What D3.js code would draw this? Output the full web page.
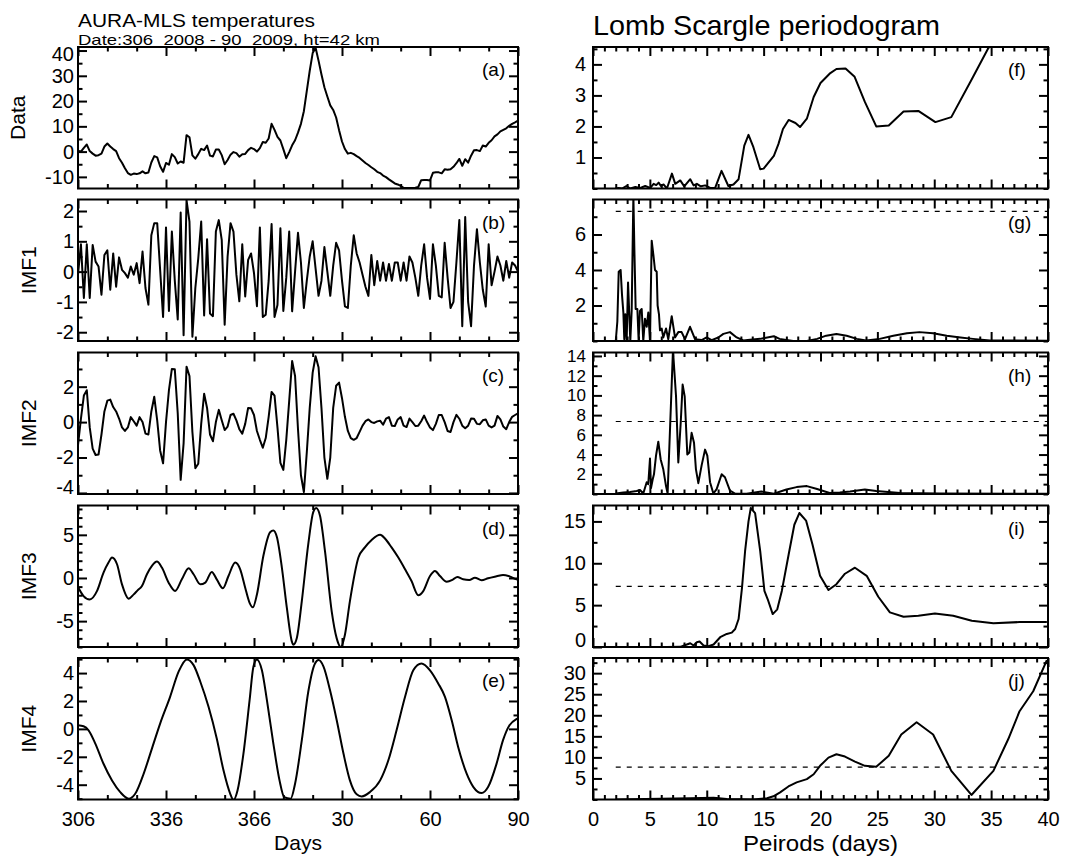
<!DOCTYPE html>
<html>
<head>
<meta charset="utf-8">
<script src="https://cdn.jsdelivr.net/npm/d3@7"></script>
<style>
    body { margin: 0; background: #fff; }
    svg text { font-family: "Liberation Sans", Arial, Helvetica, sans-serif; fill: #000; }
    .tick text { font-size: 20px; }
    .tick line { stroke: #000; stroke-width: 2px; }
</style>
</head>
<body>
<svg id="chart" width="1065" height="860"></svg>
<script>
// ---- left column: daily series, day 306 of 2008 .. day 90 of 2009 ----
const dayStart = 306;
const dayTicks = [306, 336, 366, 396, 426, 456];
const dayTickLabels = ["306", "336", "366", "30", "60", "90"];

const dataVals = [
    0.4, 0.0, 1.5, 2.8, 0.2, -0.8, -1.6, -1.4, -0.8, 2.0,
    3.2, 2.0, 1.0, 0.2, -2.6, -4.4, -6.6, -8.5, -9.2, -8.7,
    -8.9, -8.6, -7.8, -8.6, -8.3, -4.3, -1.8, -2.3, -5.8, -8.0,
    -4.5, -5.2, -1.0, -2.2, -4.7, -3.9, -4.4, 6.5, 5.7, -1.5,
    -2.8, -1.0, 1.1, 0.6, 2.4, -1.6, -1.9, 0.8, 0.8, -1.4,
    -5.0, -3.3, -1.2, -0.2, -0.6, -2.0, -1.0, -0.9, 0.6, 1.5,
    1.0, 0.0, 1.4, 3.8, 3.5, 5.2, 11.0, 8.6, 5.8, 4.4,
    1.0, -2.6, -0.2, 2.5, 4.5, 7.5, 11.0, 16.0, 24.0, 32.0,
    39.0, 41.1, 36.0, 30.5, 25.5, 21.8, 18.3, 16.5, 13.5, 8.5,
    4.0, 1.0, -0.8, -0.5, -1.0, -1.8, -2.5, -3.5, -4.5, -5.3,
    -6.2, -7.0, -8.0, -8.5, -9.5, -10.1, -11.0, -11.8, -12.6, -13.0,
    -13.6, -14.3, -14.4, -14.4, -14.4, -14.3, -14.0, -11.3, -11.2, -11.2,
    -11.4, -8.4, -8.2, -8.2, -8.6, -7.0, -7.2, -7.0, -6.0, -4.6,
    -2.9, -5.6, -3.0, -4.4, -1.6, 0.5, 0.6, 0.2, 2.4, 2.0,
    3.5, 4.5, 6.0, 6.8, 8.0, 8.6, 9.2, 10.2, 11.0, 11.6,
    12.3
];

const imf1Vals = [
    -0.1, 0.9, -0.87, 0.9, -0.87, 0.88, 0.33, 0.17, -0.76, 0.55,
    0.7, -0.6, 0.6, -0.5, 0.47, 0.06, -0.05, -0.2, 0.17, -0.1,
    0.28, -0.38, 0.66, -0.54, -1.09, 1.2, 1.6, 1.6, 0.06, -1.5,
    1.46, -1.3, 1.32, -0.3, -1.58, 1.95, -2.1, 2.36, 1.65, -2.15,
    -0.54, 0.44, 1.65, -1.45, 1.07, -1.38, -1.47, 1.32, 1.7, 1.05,
    -1.75, 0.5, 1.6, 1.32, -0.1, -0.98, 0.9, -0.82, 0.39, 0.6,
    -0.05, -1.14, 1.46, -1.5, -1.42, -0.3, 1.57, -1.5, -1.1, 1.43,
    -1.3, -0.2, 1.32, -1.31, 0.0, 1.28, 0.3, -1.2, -0.3, 0.5,
    1.0, 0.1, -0.8, -0.3, 0.81, 0.0, -0.8, 0.2, 0.95, 0.7,
    -0.3, -1.15, -1.2, 0.2, 1.2, 0.6, 0.3, -0.1, -0.5, -0.8,
    0.55, -0.45, 0.35, -0.3, 0.3, -0.3, 0.25, -0.3, 0.3, 0.3,
    -0.3, 0.3, -0.3, 0.5, 0.3, -0.2, -0.8, 0.2, 0.9, -0.2,
    -0.9, 0.9, 0.2, -0.8, -0.85, 0.95, -0.2, -1.2, -1.0, 0.3,
    1.7, -1.8, 1.8, -1.0, -1.8, 0.2, 1.4, 0.3, -0.6, -1.15,
    0.9, -0.45, 0.0, 0.5, 0.2, -0.3, 0.35, -0.2, 0.3, 0.2,
    0.0
];

const imf2Vals = [
    -1.3, 0.2, 1.5, 1.8, -0.3, -1.5, -1.86, -1.83, -0.7, 0.6,
    1.21, 1.27, 0.85, 0.6, 0.2, -0.3, -0.5, -0.3, 0.28, 0.05,
    -0.2, 0.28, 0.0, -0.65, -0.7, 0.6, 1.43, 0.1, -1.6, -2.33,
    0.0, 1.8, 3.0, 2.98, 0.5, -3.26, -1.2, 3.13, 2.6, -0.56,
    -2.6, -2.35, -0.1, 1.6, 0.8, -0.7, -1.08, 0.0, 0.69, 0.1,
    -0.45, -0.25, 0.4, 0.47, 0.1, -0.4, -0.65, -0.1, 0.8, 0.78,
    0.4, -0.5, -1.0, -1.45, -0.9, 0.3, 1.7, 1.5, -0.3, -2.3,
    -2.7, -1.0, 1.2, 3.45, 2.6, -0.4, -3.0, -3.95, -1.7, 0.8,
    2.79, 3.72, 3.1, 0.8, -2.0, -3.2, -2.0, 0.8, 2.05, 2.23,
    1.35, 0.3, -0.5, -0.9, -1.0, -0.9, -0.55, -0.2, 0.05, 0.15,
    0.0, -0.05, 0.04, 0.08, -0.15, 0.19, 0.28, -0.2, -0.22, 0.15,
    0.28, -0.2, -0.28, 0.2, 0.0, -0.22, -0.2, 0.05, 0.37, 0.0,
    -0.3, -0.45, -0.1, 0.4, 0.4, 0.0, -0.5, -0.56, 0.0, 0.41,
    0.19, -0.2, -0.35, -0.2, 0.2, 0.19, -0.1, -0.12, 0.1, 0.15,
    -0.2, -0.3, -0.2, 0.35, 0.15, -0.25, -0.4, 0.0, 0.3, 0.4,
    0.5
];

// smooth modes, read at extrema and in between
const imf3Days = [306, 307.9, 310, 312.5, 314.7, 316.4, 317.6, 319.3, 321, 323.3,
    325, 326.3, 327.8, 329.5, 331.2, 332.9, 334.6, 336.9, 339.1, 341.4,
    343.7, 345.4, 347.7, 349.4, 351.6, 353.3, 355.4, 357.3, 359.6, 361.3,
    363, 364.5, 365.6, 367, 369.2, 371.5, 372.6, 373.8, 375.5, 377.2,
    378.9, 379.4, 380.6, 382.3, 384.5, 386.2, 387.2, 388.5, 390.2, 392.5,
    394.2, 395.6, 397, 398.7, 401.6, 403.8, 406.1, 409, 410.7, 412.9,
    415.2, 417.5, 419.7, 422, 423.7, 426, 427.7, 429.4, 431.7, 433.9,
    435.3, 437.3, 439.4, 441.3, 443.6, 445.8, 448.7, 450.9, 453.1, 455.5, 456];
const imf3Vals = [-1.05, -2.1, -2.5, -1.5, 0.62, 1.79, 2.37, 1.59, -0.74, -2.4,
    -1.9, -1.44, -0.93, 0.43, 1.4, 1.9, 1.21, -0.54, -1.5, -0.16,
    1.13, 0.43, -0.74, -0.54, 0.7, -0.16, -1.2, 0.23, 1.79, 1.01,
    -1.13, -2.88, -3.4, -1.91, 2.57, 5.3, 5.5, 4.74, 1.21, -3.46,
    -7.35, -7.74, -6.96, -2.68, 3.93, 7.63, 8.1, 7.2, 3.11, -3.89,
    -7.0, -8.0, -6.58, -2.68, 2.37, 3.54, 4.4, 5.0, 4.55, 3.54,
    2.37, 1.01, -0.35, -2.0, -1.52, 0.23, 0.82, 0.23, -0.43, -0.16,
    0.12, -0.16, -0.23, 0.04, -0.27, -0.04, 0.19, 0.35, 0.19, -0.16, -0.2];

const imf4Days = [306, 307.9, 309.6, 311.9, 314.7, 317.6, 320.4, 323.3, 325.5, 328.4,
    331.2, 334, 337.4, 340.3, 343.1, 345.4, 347.7, 350.5, 353.3, 355.6,
    357.9, 359, 360.4, 362.4, 364.5, 365.8, 367, 368.7, 370.4, 372.6,
    374.7, 376.3, 378.5, 380, 382.3, 384.5, 386.8, 388, 389.7, 391.9,
    394.2, 396.5, 398.7, 401, 402.7, 405.5, 409, 411.8, 414.6, 417.5,
    420.3, 423.1, 426, 428.8, 431.1, 433.4, 435.6, 438.5, 440.8, 443.6,
    445.8, 448.7, 450.9, 453.1, 455.2, 456];
const imf4Vals = [0.26, 0.19, -0.1, -1.05, -2.5, -3.7, -4.53, -5.0, -4.65, -3.2,
    -1.41, 0.38, 2.3, 4.1, 4.98, 4.57, 3.38, 1.58, -0.69, -2.97,
    -4.65, -5.1, -4.4, -1.77, 2.06, 4.46, 4.98, 4.2, 2.06, -1.05,
    -3.69, -4.89, -5.0, -3.93, -0.81, 2.66, 4.69, 4.93, 4.46, 2.78,
    0.62, -1.77, -3.69, -4.69, -4.84, -4.53, -3.69, -2.25, -0.1, 2.3,
    4.2, 4.69, 4.2, 3.26, 2.3, 0.62, -1.29, -3.21, -4.17, -4.6,
    -4.17, -2.49, -0.81, 0.26, 0.67, 0.74];

// ---- right column: Lomb-Scargle power against period (days) ----
const periodTicks = [0, 5, 10, 15, 20, 25, 30, 35, 40];

const periodsF = [1.96, 2.25, 2.55, 2.93, 3.28, 3.72, 4.16, 4.59, 5.03, 5.33,
    5.56, 5.77, 5.97, 6.2, 6.5, 6.94, 7.23, 7.67, 8.02, 8.55,
    8.84, 9.13, 9.48, 9.86, 10.3, 10.74, 11.3, 11.9, 12.35, 12.8,
    13.3, 13.67, 14.1, 14.7, 15.0, 15.9, 16.3, 16.7, 17.2, 17.8,
    18.2, 18.8, 19.4, 20.0, 20.8, 21.4, 22.2, 23.0, 23.9, 24.9,
    26.0, 27.3, 28.6, 30.1, 31.5, 33.3, 34.7, 36.2];
const powerF = [0, 0.02, 0, 0.08, 0, 0.05, 0.02, 0.08, 0.02, 0.15,
    0.11, 0.19, 0.08, 0.13, 0, 0.48, 0.15, 0.26, 0.07, 0.3,
    0.1, 0.15, 0.07, 0.1, 0.02, 0.02, 0.57, 0.08, 0.13, 0.3,
    1.38, 1.73, 1.33, 0.62, 0.64, 1.05, 1.43, 1.92, 2.21, 2.11,
    1.98, 2.25, 2.95, 3.4, 3.7, 3.85, 3.87, 3.6, 2.79, 2.0,
    2.03, 2.48, 2.5, 2.14, 2.3, 3.52, 4.49, 5.3];

const periodsG = [2.0, 2.14, 2.26, 2.43, 2.55, 2.67, 2.75, 2.84, 2.96, 3.08,
    3.19, 3.28, 3.4, 3.55, 3.63, 3.75, 3.9, 4.01, 4.13, 4.28,
    4.42, 4.57, 4.72, 4.86, 5.01, 5.16, 5.3, 5.45, 5.6, 5.68,
    5.8, 5.89, 6.04, 6.18, 6.42, 6.62, 6.92, 7.21, 7.5, 7.79,
    8.09, 8.53, 8.97, 9.55, 9.99, 10.43, 11.02, 11.46, 12.04, 12.63,
    13.22, 13.8, 14.7, 15.9, 16.4, 17.6, 18.8, 19.7, 20.5, 21.4,
    22.3, 23.2, 24.0, 25.2, 26.4, 27.6, 28.7, 29.9, 31.1, 32.3,
    33.4, 34.9, 40];
const powerG = [0, 1.1, 3.9, 4.0, 2.6, 1.6, 0.1, 1.5, 0, 3.3,
    1.5, 0, 1.7, 8.2, 5.4, 1.8, 1.8, 0.05, 1.7, 1.8,
    0, 1.25, 0.8, 1.6, 0, 5.65, 4.9, 4.0, 3.9, 2.0,
    1.5, 0.6, 0.7, 0.2, 0.7, 0.1, 1.4, 0.2, 0.5, 0.5,
    0.1, 0.8, 0.1, 0.05, 0.2, 0.05, 0.2, 0.4, 0.5, 0.2,
    0.03, 0.07, 0.12, 0.27, 0.12, 0.0, 0.0, 0.12, 0.3, 0.4,
    0.3, 0.12, 0.03, 0.12, 0.3, 0.44, 0.5, 0.44, 0.3, 0.2,
    0.12, 0.03, 0.02];

const periodsH = [2.0, 2.67, 3.25, 3.84, 4.13, 4.42, 4.72, 4.86, 5.01, 5.1,
    5.25, 5.36, 5.54, 5.74, 5.95, 6.18, 6.42, 6.56, 7.03, 7.3,
    7.5, 7.71, 7.88, 8.06, 8.29, 8.47, 8.67, 8.88, 9.05, 9.26,
    9.55, 9.85, 10.05, 10.29, 10.58, 10.87, 11.31, 11.6, 12.04, 12.48,
    13.5, 14.8, 15.9, 17.0, 17.9, 18.8, 19.7, 20.8, 21.7, 22.6,
    23.9, 24.9, 27.0, 30.5, 40];
const powerH = [0.05, 0.15, 0.2, 0.3, 0.4, 0.05, 1.2, 1.0, 3.6, 0.6,
    1.5, 2.0, 3.9, 5.3, 3.5, 2.5, 0.8, 0.05, 14.6, 9.9,
    3.2, 7.2, 11.1, 9.9, 4.0, 4.2, 6.2, 5.2, 2.5, 1.1,
    2.9, 4.5, 3.9, 1.2, 0.05, 0.5, 2.0, 1.7, 0.35, 0.05,
    0.02, 0.25, 0.03, 0.45, 0.7, 0.8, 0.5, 0.1, 0.15, 0.25,
    0.45, 0.3, 0.1, 0.05, 0.02];

const periodsI = [2.0, 6.5, 7.67, 8.25, 8.55, 8.84, 9.13, 9.37, 9.72, 10.15,
    10.6, 11.18, 11.76, 12.2, 12.5, 12.8, 13.1, 13.37, 13.67, 13.87,
    14.25, 14.7, 15.07, 15.36, 15.8, 16.2, 16.6, 17.2, 17.7, 18.14,
    18.73, 19.3, 19.96, 20.7, 21.4, 22.15, 23.03, 24.06, 25.08, 26.1,
    27.3, 28.6, 30.06, 31.67, 33.3, 35.2, 37.5, 39.9];
const powerI = [0, 0, 0.02, 0.3, 0.45, 0.18, 0.57, 0.65, 0.18, 0.1,
    0.3, 1.17, 1.56, 1.72, 2.15, 3.34, 7.1, 11.44, 15.0, 16.6,
    16.0, 11.44, 6.7, 5.7, 3.93, 4.5, 6.7, 11.05, 14.6, 16.0,
    15.1, 12.2, 8.5, 6.8, 7.5, 8.75, 9.47, 8.5, 6.0, 4.13,
    3.62, 3.74, 4.0, 3.74, 3.14, 2.83, 2.98, 2.98];

const periodsJ = [2.0, 8.55, 10.6, 11.76, 14.1, 15.3, 15.86, 16.45, 17.18, 17.9,
    18.8, 19.4, 19.96, 20.7, 21.4, 22.15, 23.03, 23.9, 24.9, 26.0,
    27.1, 28.45, 29.9, 31.5, 33.27, 35.2, 36.5, 37.5, 38.7, 39.9];
const powerJ = [0, 0.3, 0.4, 0.1, 0, 0.28, 0.76, 1.7, 3.1, 4.06,
    4.84, 6.0, 8.0, 9.95, 10.74, 10.2, 9.0, 8.0, 7.75, 10.4,
    15.45, 18.36, 15.45, 6.8, 1.08, 6.8, 14.3, 20.96, 25.7, 33.1];

// significance level (dashed)
const sigLevels = [7.3, 7.3, 7.35, 7.25, 7.7];

// ---- layout ----
const leftX = [78, 518];
const rightX = [593, 1048];
const rowTop = [47, 199.5, 352.5, 505.5, 658];
const rowH = 141.5;
const majorLen = 9, minorLen = 4.5;

const svg = d3.select("#chart");
const xDays = d3.scaleLinear().domain([306, 456]).range(leftX);
const xPer = d3.scaleLinear().domain([0, 40]).range(rightX);

// plain hyphen for negatives, like the original labels
const plainInt = d => String(Math.round(d));

const dailyIdx = d3.range(dataVals.length).map(i => dayStart + i);

const leftPanels = [
    { tag: "(a)", title: "Data", days: dailyIdx, vals: dataVals, domain: [-14.6, 41.4], ticks: [-10, 0, 10, 20, 30, 40], minor: 5 },
    { tag: "(b)", title: "IMF1", days: dailyIdx, vals: imf1Vals, domain: [-2.29, 2.38], ticks: [-2, -1, 0, 1, 2], minor: 0.5 },
    { tag: "(c)", title: "IMF2", days: dailyIdx, vals: imf2Vals, domain: [-4.06, 3.93], ticks: [-4, -2, 0, 2], minor: 1 },
    { tag: "(d)", title: "IMF3", days: imf3Days, vals: imf3Vals, domain: [-8.0, 8.4], ticks: [-5, 0, 5], minor: 1, smooth: true },
    { tag: "(e)", title: "IMF4", days: imf4Days, vals: imf4Vals, domain: [-5.06, 5.08], ticks: [-4, -2, 0, 2, 4], minor: 1, smooth: true }
];

const rightPanels = [
    { tag: "(f)", per: periodsF, pow: powerF, domain: [0, 4.56], ticks: [1, 2, 3, 4], minor: 0.5 },
    { tag: "(g)", per: periodsG, pow: powerG, domain: [0, 7.97], ticks: [2, 4, 6], minor: 1 },
    { tag: "(h)", per: periodsH, pow: powerH, domain: [0, 14.35], ticks: [2, 4, 6, 8, 10, 12, 14], minor: 1, labelSize: 17, noClamp: true },
    { tag: "(i)", per: periodsI, pow: powerI, domain: [0, 16.9], ticks: [0, 5, 10, 15], minor: 2.5 },
    { tag: "(j)", per: periodsJ, pow: powerJ, domain: [0, 33.6], ticks: [5, 10, 15, 20, 25, 30], minor: 2.5 }
];

function minorValues(domain, step, majors) {
    const lo = Math.ceil(domain[0] / step - 1e-9) * step;
    return d3.range(lo, domain[1] + 1e-9, step)
        .filter(v => !majors.some(m => Math.abs(m - v) < 1e-6));
}

function stripDomain(g) { g.select(".domain").remove(); }

// frame, inward ticks on all four sides, labels on left (and bottom if asked)
function drawFrame(g, x, y, xMajor, xMinor, yMajor, yMinor, xFmt, labelGap, labelSize, noClamp) {
    const [x0, x1] = x.range();
    const top = y.range()[1], bottom = y.range()[0];

    g.append("g").attr("transform", `translate(0,${bottom})`)
        .call(d3.axisBottom(x).tickValues(xMajor).tickSize(-majorLen).tickPadding(12).tickFormat(xFmt || ""))
        .call(stripDomain);
    g.append("g").attr("transform", `translate(0,${bottom})`)
        .call(d3.axisBottom(x).tickValues(xMinor).tickSize(-minorLen).tickFormat(""))
        .call(stripDomain);
    g.append("g").attr("transform", `translate(0,${top})`)
        .call(d3.axisTop(x).tickValues(xMajor).tickSize(-majorLen).tickFormat(""))
        .call(stripDomain);
    g.append("g").attr("transform", `translate(0,${top})`)
        .call(d3.axisTop(x).tickValues(xMinor).tickSize(-minorLen).tickFormat(""))
        .call(stripDomain);

    const yAxis = g.append("g").attr("transform", `translate(${x0},0)`)
        .call(d3.axisLeft(y).tickValues(yMajor).tickSize(-majorLen).tickPadding(labelGap).tickFormat(plainInt))
        .call(stripDomain);
    if (labelSize) yAxis.selectAll(".tick text").style("font-size", labelSize + "px");
    // keep end labels inside the axis span, as the original plot does
    if (!noClamp) {
        yAxis.selectAll(".tick text")
            .attr("y", d => {
                const ty = y(d);
                return Math.max(top + 7, Math.min(bottom - 7, ty)) - ty;
            });
    }
    g.append("g").attr("transform", `translate(${x0},0)`)
        .call(d3.axisLeft(y).tickValues(yMinor).tickSize(-minorLen).tickFormat(""))
        .call(stripDomain);
    g.append("g").attr("transform", `translate(${x1},0)`)
        .call(d3.axisRight(y).tickValues(yMajor).tickSize(-majorLen).tickFormat(""))
        .call(stripDomain);
    g.append("g").attr("transform", `translate(${x1},0)`)
        .call(d3.axisRight(y).tickValues(yMinor).tickSize(-minorLen).tickFormat(""))
        .call(stripDomain);

    g.append("rect")
        .attr("x", x0).attr("y", top)
        .attr("width", x1 - x0).attr("height", bottom - top)
        .attr("fill", "none").attr("stroke", "#000").attr("stroke-width", 2);

    return yAxis;
}

function addClip(id, x, y) {
    const [x0, x1] = x.range();
    svg.append("clipPath").attr("id", id)
        .append("rect")
        .attr("x", x0).attr("y", y.range()[1])
        .attr("width", x1 - x0).attr("height", y.range()[0] - y.range()[1]);
}

// ---- left column ----
leftPanels.forEach((p, i) => {
    const top = rowTop[i];
    const y = d3.scaleLinear().domain(p.domain).range([top + rowH, top]);
    const g = svg.append("g");
    const clipId = "clipL" + i;
    addClip(clipId, xDays, y);

    const line = d3.line()
        .x(k => xDays(p.days[k]))
        .y(k => y(p.vals[k]))
        .curve(p.smooth ? d3.curveMonotoneX : d3.curveLinear);

    g.append("path")
        .datum(d3.range(p.vals.length))
        .attr("clip-path", `url(#${clipId})`)
        .attr("d", line)
        .attr("fill", "none")
        .attr("stroke", "#000")
        .attr("stroke-width", 2)
        .attr("stroke-linejoin", "round");

    const last = i === leftPanels.length - 1;
    const xMinor = d3.range(306, 457, 10).filter(d => !dayTicks.includes(d));
    const fmt = last ? (d => dayTickLabels[dayTicks.indexOf(d)]) : null;
    const yAxis = drawFrame(g, xDays, y, dayTicks, xMinor, p.ticks,
        minorValues(p.domain, p.minor, p.ticks), fmt, 4);

    // y title sits left of the widest tick label
    let widest = 0;
    yAxis.selectAll(".tick text").each(function () {
        widest = Math.max(widest, this.getComputedTextLength());
    });
    const tx = leftX[0] - 4 - widest - 20;
    g.append("text")
        .attr("transform", `translate(${tx},${top + rowH / 2}) rotate(-90)`)
        .attr("text-anchor", "middle")
        .style("font-size", "21px")
        .text(p.title);

    g.append("text")
        .attr("x", leftX[1] - 36)
        .attr("y", top + 29)
        .style("font-size", "19px")
        .text(p.tag);
});

// ---- right column ----
rightPanels.forEach((p, i) => {
    const top = rowTop[i];
    const y = d3.scaleLinear().domain(p.domain).range([top + rowH, top]);
    const g = svg.append("g");
    const clipId = "clipR" + i;
    addClip(clipId, xPer, y);

    g.append("path")
        .datum([[2, sigLevels[i]], [40, sigLevels[i]]])
        .attr("clip-path", `url(#${clipId})`)
        .attr("d", d3.line().x(d => xPer(d[0])).y(d => y(d[1])))
        .attr("fill", "none")
        .attr("stroke", "#000")
        .attr("stroke-width", 1.2)
        .attr("stroke-dasharray", "5,6");

    const line = d3.line()
        .x(k => xPer(p.per[k]))
        .y(k => y(p.pow[k]));

    g.append("path")
        .datum(d3.range(p.per.length))
        .attr("clip-path", `url(#${clipId})`)
        .attr("d", line)
        .attr("fill", "none")
        .attr("stroke", "#000")
        .attr("stroke-width", 2)
        .attr("stroke-linejoin", "round");

    const last = i === rightPanels.length - 1;
    const xMinor = d3.range(0, 41, 1).filter(d => !periodTicks.includes(d));
    drawFrame(g, xPer, y, periodTicks, xMinor, p.ticks,
        minorValues(p.domain, p.minor, p.ticks), last ? plainInt : null, 7, p.labelSize, p.noClamp);

    g.append("text")
        .attr("x", rightX[1] - 40)
        .attr("y", top + 29)
        .style("font-size", "19px")
        .text(p.tag);
});

// ---- titles ----
svg.append("text")
    .attr("x", 78).attr("y", 27)
    .attr("textLength", 237).attr("lengthAdjust", "spacingAndGlyphs")
    .style("font-size", "18.6px")
    .text("AURA-MLS temperatures");

svg.append("text")
    .attr("x", 78).attr("y", 45)
    .attr("textLength", 302).attr("lengthAdjust", "spacingAndGlyphs")
    .style("font-size", "15px")
    .style("white-space", "pre")
    .text("Date:306  2008 - 90  2009, ht=42 km");

svg.append("text")
    .attr("x", 593).attr("y", 35)
    .attr("textLength", 347).attr("lengthAdjust", "spacingAndGlyphs")
    .style("font-size", "28px")
    .text("Lomb Scargle periodogram");

svg.append("text")
    .attr("x", (leftX[0] + leftX[1]) / 2).attr("y", 850)
    .attr("text-anchor", "middle")
    .style("font-size", "21px")
    .text("Days");

svg.append("text")
    .attr("x", (rightX[0] + rightX[1]) / 2).attr("y", 851)
    .attr("text-anchor", "middle")
    .attr("textLength", 155).attr("lengthAdjust", "spacingAndGlyphs")
    .style("font-size", "21.5px")
    .text("Peirods (days)");
</script>
</body>
</html>
